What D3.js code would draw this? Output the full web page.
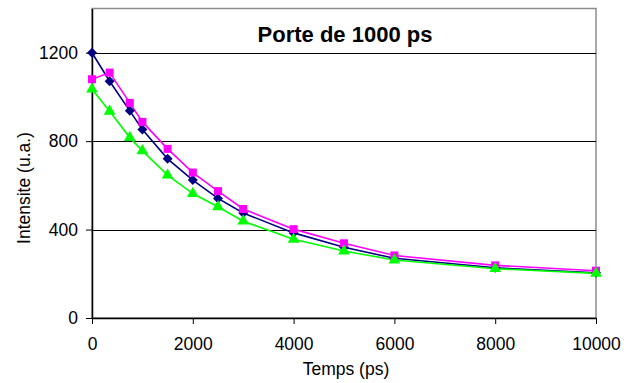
<!DOCTYPE html>
<html>
<head>
<meta charset="utf-8">
<script src="https://cdn.jsdelivr.net/npm/d3@7"></script>
<style>
  body { margin: 0; background: #fff; }
  svg { display: block; font-family: Arial, "Liberation Sans", sans-serif; }
</style>
</head>
<body>
<div id="chart"></div>
<script>
const times = [0, 350, 750, 1000, 1500, 2000, 2500, 3000, 4000, 5000, 6000, 8000, 10000];
const blueValues = [1200, 1071, 937, 853, 720, 624, 541, 475, 385, 320, 270, 227, 205];
const pinkValues = [1080, 1110, 973, 887, 765, 658, 574, 493, 402, 338, 283, 238, 214];
const greenValues = [1035, 935, 816, 756, 646, 563, 503, 438, 356, 303, 262, 223, 202];
const xTicks = [0, 2000, 4000, 6000, 8000, 10000];
const yTicks = [0, 400, 800, 1200];

const width = 632, height = 383;
const margin = { top: 8.5, right: 36, bottom: 65, left: 92 };

const svg = d3.select("#chart").append("svg")
  .attr("width", width)
  .attr("height", height);

const x = d3.scaleLinear().domain([0, 10000]).range([margin.left, width - margin.right]);
const y = d3.scaleLinear().domain([0, 1400]).range([height - margin.bottom, margin.top]);

// plot frame (grey top/right)
svg.append("rect")
  .attr("x", x(0)).attr("y", y(1400))
  .attr("width", x(10000) - x(0)).attr("height", y(0) - y(1400))
  .attr("fill", "#fff").attr("stroke", "#8c8c8c").attr("stroke-width", 1.5);

// gridlines
svg.append("g").selectAll("line")
  .data(yTicks.filter(d => d > 0))
  .join("line")
  .attr("x1", x(0)).attr("x2", x(10000))
  .attr("y1", d => Math.round(y(d)) + 0.5).attr("y2", d => Math.round(y(d)) + 0.5)
  .attr("stroke", "#000").attr("stroke-width", 1);

// axes
const yAxis = svg.append("g")
  .attr("transform", `translate(${x(0)},0)`)
  .call(d3.axisLeft(y).tickValues(yTicks).tickSize(6).tickPadding(8).tickSizeOuter(0).tickFormat(d3.format("d")));
const xAxis = svg.append("g")
  .attr("transform", `translate(0,${y(0)})`)
  .call(d3.axisBottom(x).tickValues(xTicks).tickSize(6).tickPadding(14).tickSizeOuter(0).tickFormat(d3.format("d")));

[yAxis, xAxis].forEach(g => {
  g.select(".domain").attr("stroke", "#000").attr("stroke-width", 1.5);
  g.selectAll(".tick line").attr("stroke", "#000").attr("stroke-width", 1);
  g.selectAll(".tick text").attr("font-size", 17.5).attr("fill", "#000")
    .attr("font-family", "Arial, 'Liberation Sans', sans-serif");
});

// series
const series = [
  { name: "blue", values: blueValues, color: "#000080", symbol: d3.symbolSquare, size: 50, rotate: 45 },
  { name: "pink", values: pinkValues, color: "#ff00ff", symbol: d3.symbolSquare, size: 64, rotate: 0 },
  { name: "green", values: greenValues, color: "#00ff00", symbol: d3.symbolTriangle, size: 60, rotate: 0 }
];

const line = d3.line().x(d => x(d[0])).y(d => y(d[1]));

series.forEach(s => {
  const pts = times.map((t, i) => [t, s.values[i]]);
  svg.append("path")
    .datum(pts)
    .attr("d", line)
    .attr("fill", "none")
    .attr("stroke", s.color)
    .attr("stroke-width", 1.6);
});

series.forEach(s => {
  const pts = times.map((t, i) => [t, s.values[i]]);
  svg.append("g").selectAll("path")
    .data(pts)
    .join("path")
    .attr("transform", d => `translate(${x(d[0])},${y(d[1])}) rotate(${s.rotate})`)
    .attr("d", d3.symbol().type(s.symbol).size(s.size))
    .attr("fill", s.color);
});

// title
svg.append("text")
  .attr("x", 345).attr("y", 41.5)
  .attr("text-anchor", "middle")
  .attr("font-size", 22).attr("font-weight", "bold")
  .text("Porte de 1000 ps");

// axis titles
svg.append("text")
  .attr("x", 346).attr("y", 375)
  .attr("text-anchor", "middle")
  .attr("font-size", 17.5)
  .text("Temps (ps)");

svg.append("text")
  .attr("transform", "translate(30,188) rotate(-90)")
  .attr("text-anchor", "middle")
  .attr("font-size", 17.5)
  .text("Intensite (u.a.)");
</script>
</body>
</html>
